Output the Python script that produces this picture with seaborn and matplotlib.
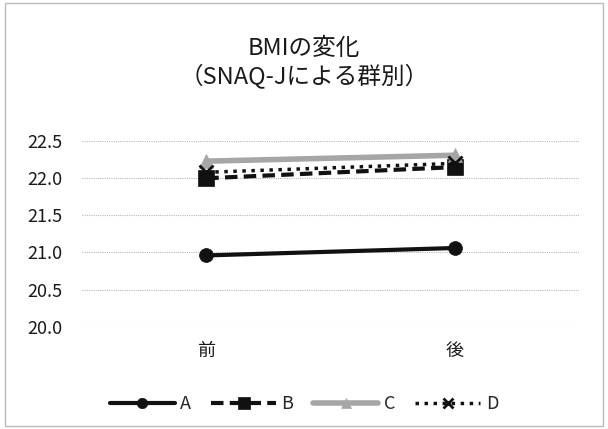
import matplotlib
matplotlib.use("Agg")
import matplotlib.pyplot as plt
from matplotlib.lines import Line2D
from matplotlib.patches import Rectangle
import seaborn as sns
import pandas as pd

sns.set_theme(style="white")
plt.rcParams['font.family'] = ['Noto Sans CJK JP', 'DejaVu Sans']

# Data: BMI before/after, grouped by SNAQ-J
periods = ["前", "後"]
groups = ["A", "B", "C", "D"]
bmi_a = [20.96, 21.06]
bmi_b = [22.00, 22.15]
bmi_c = [22.23, 22.31]
bmi_d = [22.08, 22.20]
yticks = [20.0, 20.5, 21.0, 21.5, 22.0, 22.5]

values = {"A": bmi_a, "B": bmi_b, "C": bmi_c, "D": bmi_d}
df = pd.DataFrame([
    {"時期": p, "BMI": v, "群": g}
    for g in groups for p, v in zip(periods, values[g])
])

colors = {"A": "#111111", "B": "#111111", "C": "#a6a6a6", "D": "#111111"}
markers = {"A": "o", "B": "s", "C": "^", "D": "x"}
dashes = {"A": "", "B": (3, 1.5), "C": "", "D": (1, 1.6)}
widths = {"A": 3.0, "B": 3.0, "C": 4.0, "D": 2.5}
msizes = {"A": 10, "B": 12, "C": 10, "D": 10}

fig = plt.figure(figsize=(6.08, 4.29), dpi=100)
ax = fig.add_axes([0.135, 0.2385, 0.817, 0.4325])

for g in groups:
    sub = df[df["群"] == g]
    sns.lineplot(data=sub, x="時期", y="BMI", ax=ax, color=colors[g],
                 marker=markers[g], markersize=msizes[g], linewidth=widths[g],
                 dashes=False, markeredgewidth=2 if g == "D" else 0.5,
                 markeredgecolor=colors[g], sort=False)
    line = ax.lines[-1]
    if dashes[g]:
        line.set_dashes(dashes[g])

ax.set_xlim(-0.5, 1.5)
ax.set_ylim(20.0, 22.5)
ax.set_yticks(yticks)
ax.set_yticklabels([f"{t:.1f}" for t in yticks])
ax.set_xlabel("")
ax.set_ylabel("")
ax.tick_params(axis="both", length=0, labelsize=13, colors="#1a1a1a")
ax.tick_params(axis="y", pad=14)
ax.tick_params(axis="x", pad=11)
ax.grid(axis="y", color="#b8b8b8", linestyle=(0, (1, 1)), linewidth=0.8)
ax.grid(axis="x", visible=False)
for s in ax.spines.values():
    s.set_visible(False)
if ax.get_legend():
    ax.get_legend().remove()

fig.text(0.5, 0.886, "BMIの変化", ha="center", va="center", fontsize=17, color="#1a1a1a")
fig.text(0.5, 0.822, "（SNAQ-Jによる群別）", ha="center", va="center", fontsize=17, color="#1a1a1a")

handles = []
for g in groups:
    h = Line2D([], [], color=colors[g], marker=markers[g], markersize=msizes[g] * 0.75,
               linewidth=widths[g], markeredgecolor=colors[g],
               markeredgewidth=2 if g == "D" else 0.5)
    if dashes[g]:
        h.set_dashes(dashes[g])
    handles.append(h)
fig.legend(handles, groups, loc="center", bbox_to_anchor=(0.5, 0.058), ncol=4,
           frameon=False, fontsize=13, handlelength=3.6, columnspacing=1.1,
           handletextpad=0.3)

fig.patches.append(Rectangle((0.008, 0.008), 0.984, 0.984, transform=fig.transFigure,
                             fill=False, edgecolor="#bbbbbb", linewidth=1))

fig.savefig("out.png", dpi=100)
